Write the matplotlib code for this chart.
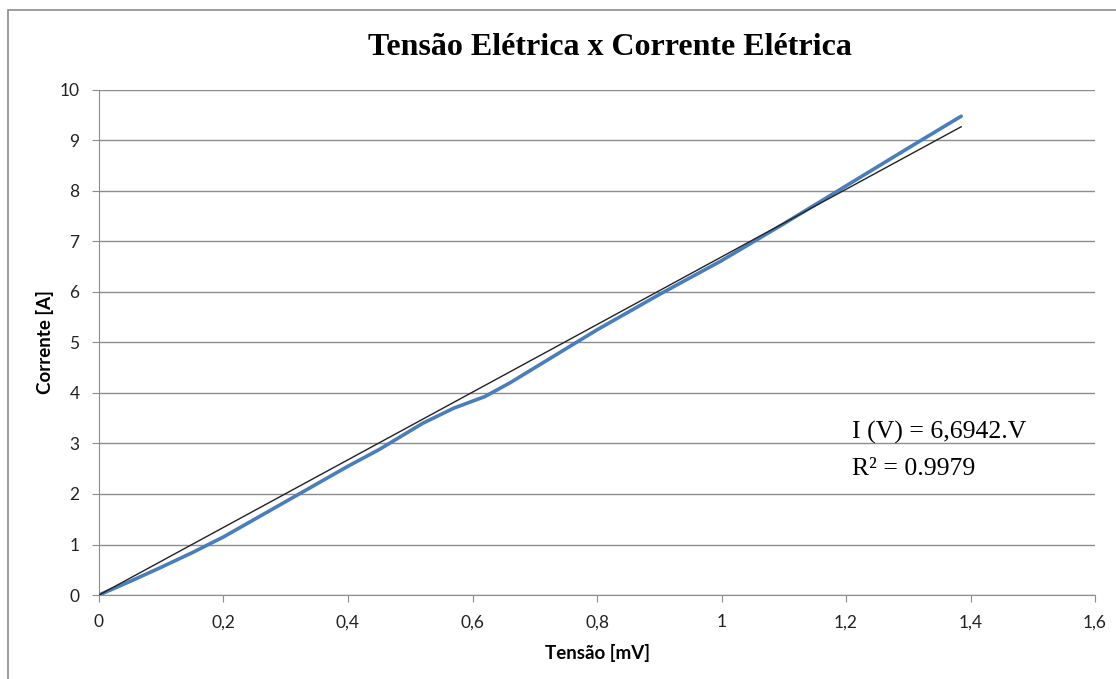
"""
Tensão x Corrente: curva medida e reta de ajuste (I = 6,6942.V)
"""
import numpy as np
import matplotlib
matplotlib.use('Agg')
import matplotlib.pyplot as plt
from matplotlib.patches import Rectangle
from matplotlib.ticker import FuncFormatter

# dados
tensao = [0, 0.05, 0.1, 0.15, 0.2, 0.3, 0.4, 0.45, 0.52, 0.57, 0.62, 0.66, 0.7, 0.8, 0.9,
          1.0, 1.1, 1.2, 1.3, 1.385]
corrente = [0, 0.27, 0.55, 0.84, 1.15, 1.85, 2.55, 2.88, 3.4, 3.7, 3.93, 4.2, 4.5, 5.25, 5.95,
            6.62, 7.35, 8.1, 8.85, 9.48]
coef_angular = 6.6942
r2 = 0.9979
x_ticks = [0, 0.2, 0.4, 0.6, 0.8, 1.0, 1.2, 1.4, 1.6]
y_ticks = list(range(0, 11))

fig = plt.figure(figsize=(11.16, 6.79), dpi=100)
ax = fig.add_axes([0.0887, 0.1237, 0.8925, 0.7438])

# moldura externa da área do gráfico
fig.patches.append(Rectangle((8 / 1116, -0.05), 1.2, 1 - 10 / 679 + 0.05,
                             transform=fig.transFigure, fill=False,
                             edgecolor='#8c8c8c', linewidth=1.2))

# reta de ajuste
x_fit = np.array([0, tensao[-1]])
ax.plot(x_fit, coef_angular * x_fit, color='#222222', linewidth=1.0, zorder=3)
# curva medida
ax.plot(tensao, corrente, color='#4a7ebb', linewidth=2.6, zorder=2,
        solid_capstyle='round', solid_joinstyle='round')

ax.set_xlim(0, 1.6)
ax.set_ylim(0, 10)
ax.set_xticks(x_ticks)
ax.set_yticks(y_ticks)
ax.xaxis.set_major_formatter(FuncFormatter(lambda v, p: ('%g' % round(v, 1)).replace('.', ',')))
ax.grid(axis='y', color='#8c8c8c', linewidth=1.0)
ax.set_axisbelow(True)
for s in ['top', 'right']:
    ax.spines[s].set_visible(False)
for s in ['left', 'bottom']:
    ax.spines[s].set_color('#8c8c8c')
ax.tick_params(axis='both', colors='#8c8c8c', labelcolor='#222222',
               labelsize=12.5, length=5, direction='out')
for lab in ax.get_xticklabels() + ax.get_yticklabels():
    lab.set_family('Lato')
ax.tick_params(axis='x', pad=9)
ax.tick_params(axis='y', pad=9)

ax.set_xlabel('Tensão [mV]', fontsize=13.5, fontweight='bold', family='Lato', labelpad=10)
ax.set_ylabel('Corrente [A]', fontsize=13.5, fontweight='bold', family='Lato', labelpad=4)

fig.text(0.5466, 0.930, 'Tensão Elétrica x Corrente Elétrica', ha='center', va='center',
         fontsize=23, fontweight='bold', family='Liberation Serif')

# equação e R² da linha de tendência
ax.text(1.209, 3.09, 'I (V) = 6,6942.V', fontsize=18.5, family='Liberation Serif',
        ha='left', va='baseline', zorder=5)
ax.text(1.209, 2.50, 'R² = %.4f' % r2, fontsize=18.5, family='Liberation Serif',
        ha='left', va='center', zorder=5,
        bbox=dict(facecolor='white', edgecolor='none', pad=2))

fig.savefig('out.png', dpi=100)
